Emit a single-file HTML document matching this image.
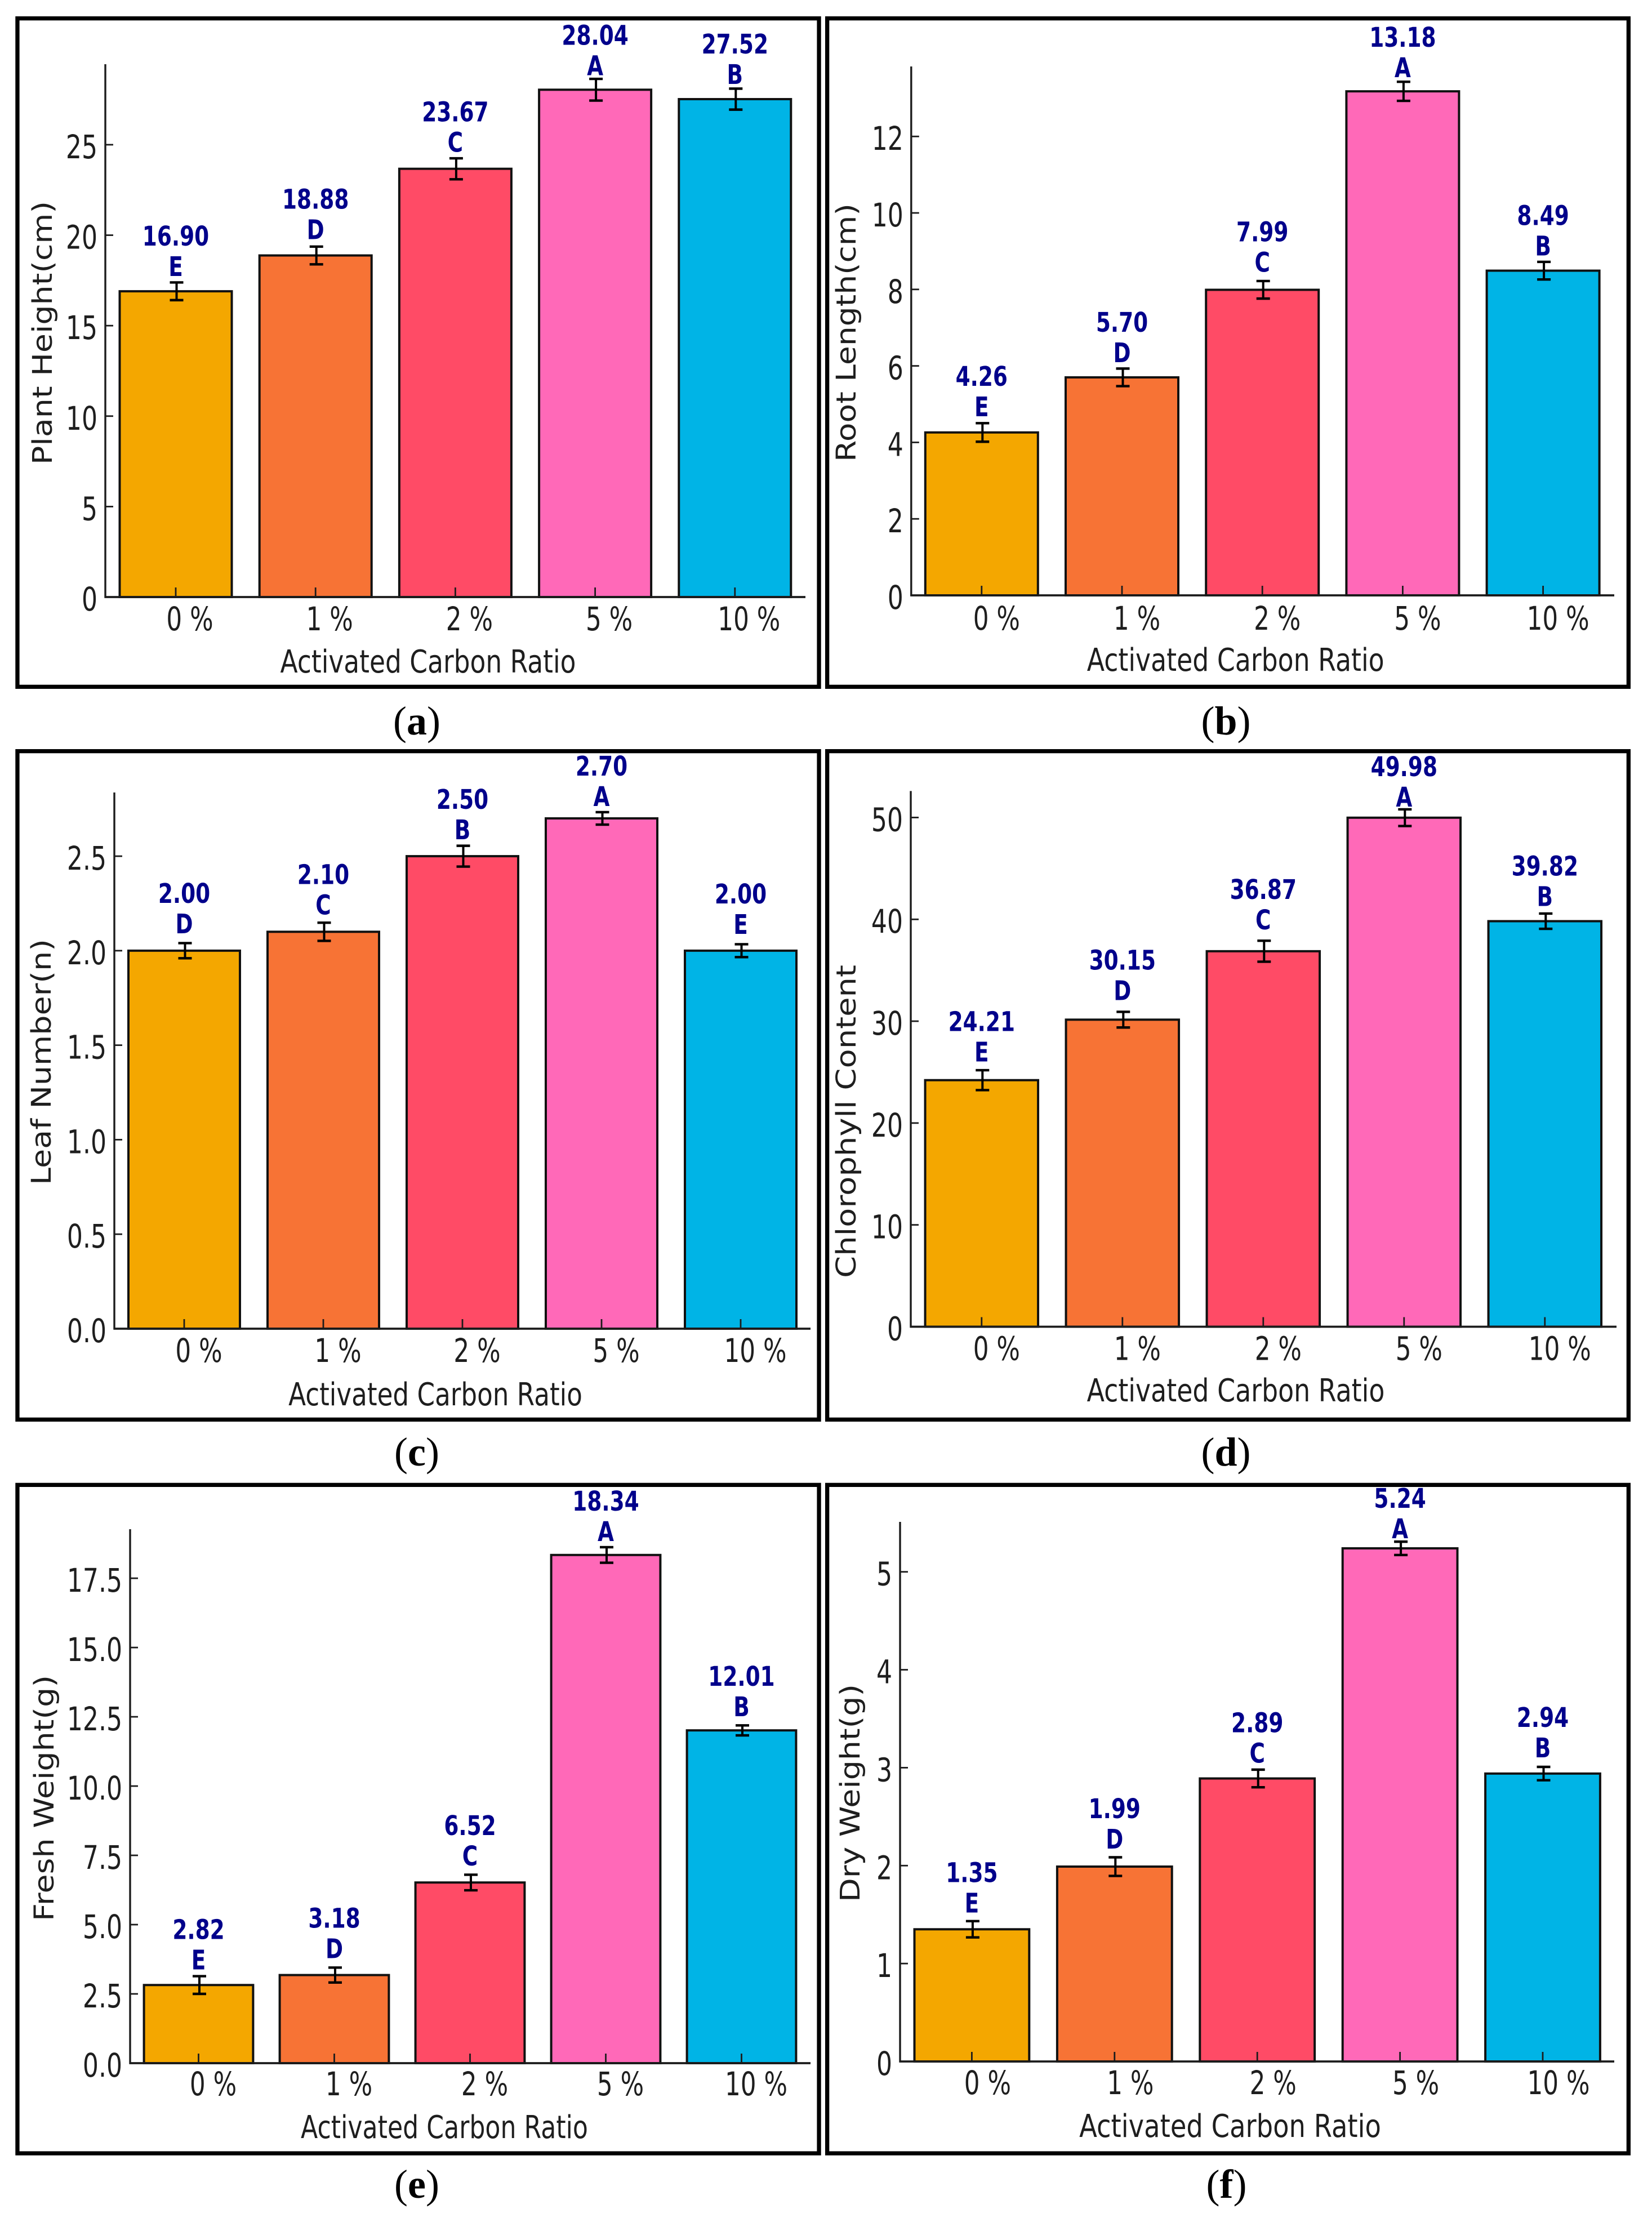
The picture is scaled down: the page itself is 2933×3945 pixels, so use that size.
<!DOCTYPE html>
<html lang="en">
<head>
<meta charset="utf-8">
<title>Activated carbon ratio effects on plant growth</title>
<style>
html,body{margin:0;padding:0;background:#fff;}
svg{display:block;}
text{font-family:"DejaVu Sans","Liberation Sans",sans-serif;}
.caption{font-family:"Liberation Serif",serif;font-size:72px;fill:#000;}
</style>
</head>
<body>
<svg id="figure" xmlns="http://www.w3.org/2000/svg" width="2933" height="3945" viewBox="0 0 2933 3945"></svg>
<script>
const categories = ['0 %', '1 %', '2 %', '5 %', '10 %'];
const xAxisTitle = 'Activated Carbon Ratio';
const barColors = ['#F4A700', '#F77335', '#FF4B66', '#FF69B8', '#00B4E6'];

const plantHeightValues = [16.90, 18.88, 23.67, 28.04, 27.52];
const plantHeightErrors = [0.49, 0.49, 0.58, 0.60, 0.58];
const plantHeightLetters = ['E', 'D', 'C', 'A', 'B'];
const plantHeightTicks = [0, 5, 10, 15, 20, 25];

const rootLengthValues = [4.26, 5.70, 7.99, 13.18, 8.49];
const rootLengthErrors = [0.243, 0.23, 0.23, 0.25, 0.23];
const rootLengthLetters = ['E', 'D', 'C', 'A', 'B'];
const rootLengthTicks = [0, 2, 4, 6, 8, 10, 12];

const leafNumberValues = [2.00, 2.10, 2.50, 2.70, 2.00];
const leafNumberErrors = [0.04, 0.048, 0.055, 0.033, 0.034];
const leafNumberLetters = ['D', 'C', 'B', 'A', 'E'];
const leafNumberTicks = [0, 0.5, 1.0, 1.5, 2.0, 2.5];

const chlorophyllValues = [24.21, 30.15, 36.87, 49.98, 39.82];
const chlorophyllErrors = [0.98, 0.77, 1.03, 0.82, 0.75];
const chlorophyllLetters = ['E', 'D', 'C', 'A', 'B'];
const chlorophyllTicks = [0, 10, 20, 30, 40, 50];

const freshWeightValues = [2.82, 3.18, 6.52, 18.34, 12.01];
const freshWeightErrors = [0.32, 0.27, 0.28, 0.28, 0.18];
const freshWeightLetters = ['E', 'D', 'C', 'A', 'B'];
const freshWeightTicks = [0, 2.5, 5, 7.5, 10, 12.5, 15, 17.5];

const dryWeightValues = [1.35, 1.99, 2.89, 5.24, 2.94];
const dryWeightErrors = [0.083, 0.095, 0.09, 0.068, 0.068];
const dryWeightLetters = ['E', 'D', 'C', 'A', 'B'];
const dryWeightTicks = [0, 1, 2, 3, 4, 5];

const panels = [
  {cap:'a', title:'Plant Height(cm)', values:plantHeightValues, errors:plantHeightErrors, letters:plantHeightLetters, ticks:plantHeightTicks, dec:0,
   gaps:[27,29,30,26,27],
   frame:[27.3,29,1457.7,1223], axisX:187, top:114, bottom:1060, right:1430, yMax:29.45, x0:312, pitch:248.2, barW:199,
   tickOff:25, tickBase:59, xTitleX:760, xTitleW:525, xTitleBase:1194, yTitle:[357,825,92], capX:740, capY:1304},
  {cap:'b', title:'Root Length(cm)', values:rootLengthValues, errors:rootLengthErrors, letters:rootLengthLetters, ticks:rootLengthTicks, dec:0,
   gaps:[29,27,32,25,27],
   frame:[1465,29,2895,1223], axisX:1617.8, top:118, bottom:1057, right:2866, yMax:13.83, x0:1742.8, pitch:249.2, barW:200,
   tickOff:26.5, tickBase:61, xTitleX:2193.7, xTitleW:528, xTitleBase:1191, yTitle:[361,820,1519], capX:2176.5, capY:1304},
  {cap:'c', title:'Leaf Number(n)', values:leafNumberValues, errors:leafNumberErrors, letters:leafNumberLetters, ticks:leafNumberTicks, dec:1,
   gaps:[31,31,30,22,30],
   frame:[27.3,1330,1457.7,2524], axisX:203, top:1407, bottom:2359, right:1439, yMax:2.837, x0:327, pitch:247, barW:198,
   tickOff:26, tickBase:59, xTitleX:773, xTitleW:522, xTitleBase:2495, yTitle:[1667,2104,90], capX:740, capY:2602},
  {cap:'d', title:'Chlorophyll Content', values:chlorophyllValues, errors:chlorophyllErrors, letters:chlorophyllLetters, ticks:chlorophyllTicks, dec:0,
   gaps:[33,35,39,20,27],
   frame:[1465,1330,2895,2524], axisX:1617, top:1404.4, bottom:2355.5, right:2870, yMax:52.6, x0:1742.8, pitch:250, barW:200.5,
   tickOff:26.5, tickBase:59, xTitleX:2194, xTitleW:529, xTitleBase:2488, yTitle:[1713,2269,1519], capX:2176.5, capY:2602},
  {cap:'e', title:'Fresh Weight(g)', values:freshWeightValues, errors:freshWeightErrors, letters:freshWeightLetters, ticks:freshWeightTicks, dec:1,
   gaps:[28,30,30,25,25],
   frame:[27.3,2632.7,1457.7,3826.7], axisX:231, top:2715, bottom:3663, right:1439, yMax:19.27, x0:352.5, pitch:241, barW:193.8,
   tickOff:26, tickBase:57, xTitleX:789, xTitleW:510, xTitleBase:3796, yTitle:[2974,3411,95], capX:740, capY:3902},
  {cap:'f', title:'Dry Weight(g)', values:dryWeightValues, errors:dryWeightErrors, letters:dryWeightLetters, ticks:dryWeightTicks, dec:0,
   gaps:[30,32,28,18,29],
   frame:[1465,2632.7,2895,3826.7], axisX:1598, top:2702, bottom:3660, right:2866, yMax:5.51, x0:1725.4, pitch:253.4, barW:203.8,
   tickOff:28, tickBase:58, xTitleX:2184, xTitleW:536, xTitleBase:3794, yTitle:[2990,3377,1526], capX:2177.5, capY:3902}
];

const NS = 'http://www.w3.org/2000/svg';
const AXIS_COLOR = '#1c1c1c';
const LABEL_COLOR = '#00008B';
const TEXT_COLOR = '#1e1e1e';
const FRAME_W = 7.3;
const root = document.getElementById('figure');

function shape(parent, tag, attrs) {
  const el = document.createElementNS(NS, tag);
  for (const k in attrs) el.setAttribute(k, attrs[k]);
  parent.appendChild(el);
  return el;
}
function line(parent, x1, y1, x2, y2, w, color) {
  return shape(parent, 'line', {x1, y1, x2, y2, stroke: color, 'stroke-width': w});
}
function label(parent, str, x, y, size, sx, anchor, color, weight) {
  const el = shape(parent, 'text', {
    transform: 'translate(' + x + ',' + y + ') scale(' + sx + ',1)',
    'font-size': size, 'text-anchor': anchor, fill: color, 'font-weight': weight || 'normal'
  });
  el.textContent = str;
  return el;
}

function drawPanel(p) {
  const yScale = v => p.bottom - (v / p.yMax) * (p.bottom - p.top);
  const xScale = i => p.x0 + i * p.pitch;
  const g = shape(root, 'g', {});
  
  

  const f = p.frame;
  const frame = shape(g, 'rect', {x: f[0] + FRAME_W / 2, y: f[1] + FRAME_W / 2, width: f[2] - f[0] - FRAME_W, height: f[3] - f[1] - FRAME_W, fill: '#fff', stroke: '#000', 'stroke-width': FRAME_W});
  
  

  p.values.forEach((v, i) => {
    const bar = shape(g, 'rect', {x: xScale(i) - p.barW / 2, y: yScale(v), width: p.barW, height: p.bottom - yScale(v), fill: barColors[i], stroke: '#111', 'stroke-width': 4});
    
    
  });

  const yAxis = line(g, p.axisX, p.top, p.axisX, p.bottom + 1.5, 3.4, AXIS_COLOR);
  
  
  const xAxis = line(g, p.axisX - 1.5, p.bottom, p.right, p.bottom, 3.8, AXIS_COLOR);
  
  

  p.ticks.forEach(t => {
    const y = yScale(t);
    const mark = line(g, p.axisX, y, p.axisX + 14, y, 2.8, AXIS_COLOR);
    
    
    const tl = label(g, t.toFixed(p.dec), p.axisX - 14, y + 24, 58, 0.76, 'end', TEXT_COLOR);
    
    
  });

  categories.forEach((c, i) => {
    const x = xScale(i);
    const mark = line(g, x, p.bottom, x, p.bottom - 17, 2.8, AXIS_COLOR);
    
    
    const tl = label(g, c, x + p.tickOff, p.bottom + p.tickBase, 57.5, 0.76, 'middle', TEXT_COLOR);
    
    
  });

  p.values.forEach((v, i) => {
    const x = xScale(i);
    const ex = x + 1.5;
    const yHi = yScale(v + p.errors[i]);
    const yLo = yScale(v - p.errors[i]);
    const eb = shape(g, 'g', {});
    
    
    line(eb, ex, yHi, ex, yLo, 4, '#000');
    line(eb, ex - 12, yHi, ex + 12, yHi, 4.4, '#000');
    line(eb, ex - 12, yLo, ex + 12, yLo, 4.4, '#000');

    const letterY = yScale(v) - p.gaps[i];
    const letter = label(g, p.letters[i], x, letterY, 48, 0.78, 'middle', LABEL_COLOR, 'bold');
    
    
    const val = label(g, v.toFixed(2), x, letterY - 54, 48, 0.78, 'middle', LABEL_COLOR, 'bold');
    
    
  });

  const xt = label(g, xAxisTitle, p.xTitleX, p.xTitleBase, 56, 1, 'middle', TEXT_COLOR);
  
  
  const xtLen = xt.getComputedTextLength();
  xt.setAttribute('transform', 'translate(' + p.xTitleX + ',' + p.xTitleBase + ') scale(' + (p.xTitleW / xtLen) + ',1)');

  const yCenter = (p.yTitle[0] + p.yTitle[1]) / 2;
  const yt = label(g, p.title, 0, 0, 48, 1, 'middle', TEXT_COLOR);
  
  
  const ytLen = yt.getComputedTextLength();
  yt.setAttribute('transform', 'translate(' + p.yTitle[2] + ',' + yCenter + ') rotate(-90) scale(' + ((p.yTitle[1] - p.yTitle[0]) / ytLen) + ',1)');

  const cap = shape(g, 'text', {x: p.capX, y: p.capY, 'text-anchor': 'middle', class: 'caption'});
  
  
  cap.appendChild(document.createTextNode('('));
  const capLetter = shape(cap, 'tspan', {'font-weight': 'bold'});
  capLetter.textContent = p.cap;
  cap.appendChild(document.createTextNode(')'));
}

panels.forEach(drawPanel);
</script>
</body>
</html>
